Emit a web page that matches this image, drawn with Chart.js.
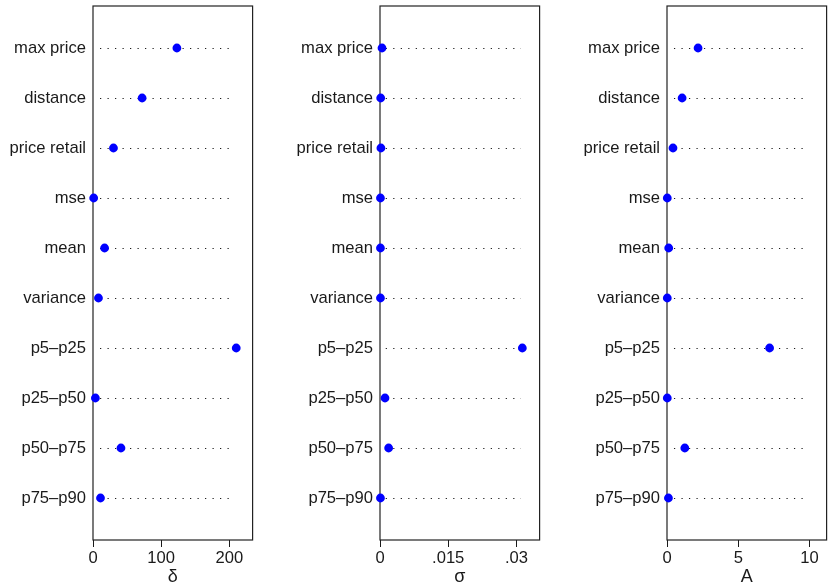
<!DOCTYPE html>
<html>
<head>
<meta charset="utf-8">
<script src="https://cdn.jsdelivr.net/npm/chart.js@4"></script>
<style>
  html, body { margin: 0; padding: 0; background: #fff; overflow: hidden; }
  #wrap { position: relative; width: 828px; height: 588px; overflow: hidden; }
  canvas { position: absolute; top: 0; }
</style>
</head>
<body>
<div id="wrap">
  <canvas id="c0" width="257" height="588" style="left:0px"></canvas>
  <canvas id="c1" width="257" height="588" style="left:287px"></canvas>
  <canvas id="c2" width="257" height="588" style="left:574px"></canvas>
</div>
<script>
const categories = ['max price', 'distance', 'price retail', 'mse', 'mean',
  'variance', 'p5\u2013p25', 'p25\u2013p50', 'p50\u2013p75', 'p75\u2013p90'];

const deltaValues = [123, 72, 30, 1, 17, 8, 210, 3.5, 41, 11];
const sigmaValues = [0.00044, 0.00015, 0.0002, 0.0001, 0.0001, 0.0001, 0.0313, 0.0011, 0.0019, 0.0001];
const aValues = [2.18, 1.06, 0.42, 0.02, 0.12, 0.02, 7.2, 0.02, 1.25, 0.1];

const deltaTicks = [0, 100, 200];
const deltaTickLabels = ['0', '100', '200'];
const sigmaTicks = [0, 0.015, 0.03];
const sigmaTickLabels = ['0', '.015', '.03'];
const aTicks = [0, 5, 10];
const aTickLabels = ['0', '5', '10'];

const axisTitles = ['\u03b4', '\u03c3', 'A'];
const axisMax = [234, 0.0351, 11.2];
const guideFrom = [10.3, 0.00126, 0.49];
const guideTo = [207, 0.031, 9.86];

const FONT = { family: '"Liberation Sans", Arial, sans-serif', size: 16.6 };
const TITLE_FONT = { family: '"Liberation Sans", Arial, sans-serif', size: 18 };
const INK = '#1a1a1a';

// dotted guide per row + frame around the plot region
const framePlugin = {
  id: 'frame',
  beforeDatasetsDraw(chart, args, opts) {
    const { ctx, chartArea: a } = chart;
    const x = chart.scales.x, y = chart.scales.y;
    ctx.save();
    ctx.strokeStyle = INK;
    ctx.lineWidth = 1.1;
    ctx.setLineDash([1.2, 6.3]);
    const x0 = x.getPixelForValue(opts.from);
    const x1 = x.getPixelForValue(opts.to);
    categories.forEach((c, i) => {
      const py = Math.round(y.getPixelForValue(i + 1)) + 0.5;
      ctx.beginPath();
      ctx.moveTo(x0, py);
      ctx.lineTo(x1, py);
      ctx.stroke();
    });
    ctx.setLineDash([]);
    ctx.strokeStyle = '#222';
    ctx.lineWidth = 1.2;
    ctx.strokeRect(a.left, a.top, a.right - a.left, a.bottom - a.top);
    ctx.restore();
  }
};

function makePanel(id, values, ticks, tickLabels, idx) {
  new Chart(document.getElementById(id), {
    type: 'scatter',
    data: {
      datasets: [{
        data: values.map((v, i) => ({ x: v, y: i + 1 })),
        backgroundColor: '#0000ff',
        borderWidth: 0,
        pointRadius: 4.4,
        pointHoverRadius: 4.4,
        clip: false
      }]
    },
    options: {
      responsive: false,
      animation: false,
      devicePixelRatio: 1,
      layout: { padding: { top: 6, right: 2, left: 0, bottom: 0 } },
      plugins: {
        legend: { display: false },
        tooltip: { enabled: false },
        frame: { from: guideFrom[idx], to: guideTo[idx] }
      },
      scales: {
        x: {
          type: 'linear',
          min: 0,
          max: axisMax[idx],
          afterBuildTicks: s => { s.ticks = ticks.map(v => ({ value: v })); },
          afterFit: s => {
            s.height = 48;
            s.paddingLeft = 0;
            s.paddingRight = 0;
          },
          ticks: {
            font: FONT,
            color: INK,
            padding: 1,
            maxRotation: 0,
            autoSkip: false,
            callback: (v, i) => tickLabels[i]
          },
          grid: {
            drawOnChartArea: false,
            drawTicks: true,
            tickLength: 7,
            color: INK,
            lineWidth: 1
          },
          border: { display: false },
          title: {
            display: true,
            text: axisTitles[idx],
            font: TITLE_FONT,
            color: INK,
            padding: { top: 0, bottom: 0 }
          }
        },
        y: {
          type: 'linear',
          reverse: true,
          min: 0.16,
          max: 10.84,
          afterBuildTicks: s => { s.ticks = categories.map((c, i) => ({ value: i + 1 })); },
          afterFit: s => {
            s.width = 93;
            s.paddingTop = 0;
            s.paddingBottom = 0;
          },
          ticks: {
            font: FONT,
            color: INK,
            padding: 7,
            autoSkip: false,
            callback: v => categories[v - 1]
          },
          grid: { display: false, drawTicks: false },
          border: { display: false }
        }
      }
    },
    plugins: [framePlugin]
  });
}

makePanel('c0', deltaValues, deltaTicks, deltaTickLabels, 0);
makePanel('c1', sigmaValues, sigmaTicks, sigmaTickLabels, 1);
makePanel('c2', aValues, aTicks, aTickLabels, 2);
</script>
</body>
</html>
